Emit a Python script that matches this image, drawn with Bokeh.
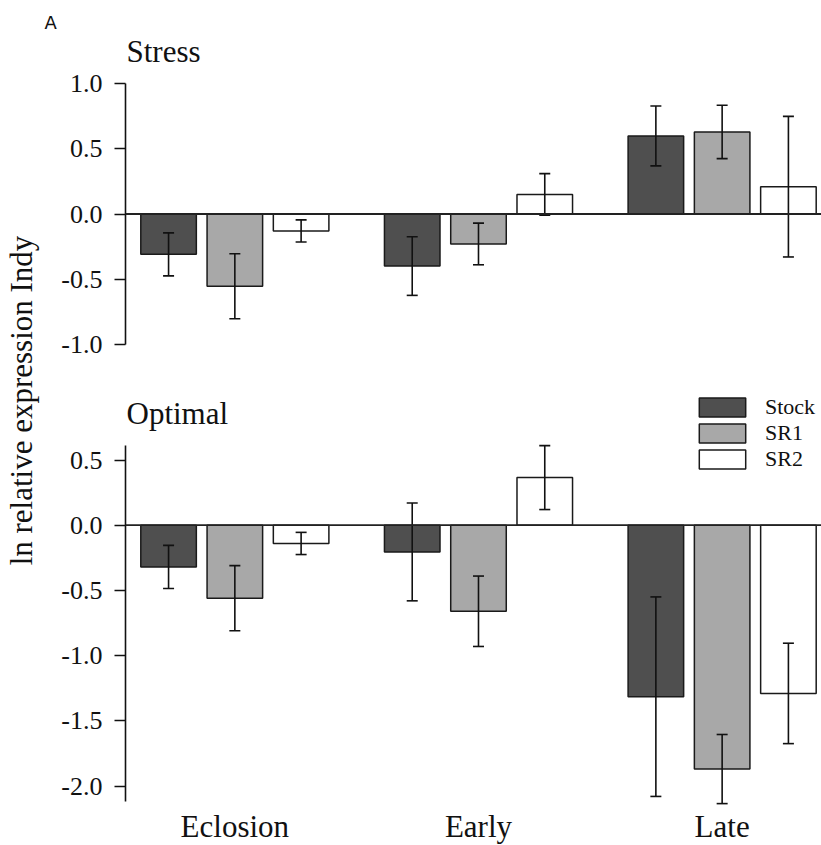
from math import pi
from bokeh.plotting import figure
from bokeh.models import (Range1d, ColumnDataSource, Whisker, TeeHead, Span, Label,
                          FixedTicker, PrintfTickFormatter, Legend, LegendItem)
from bokeh.layouts import row, column
from bokeh.embed import file_html
from bokeh.resources import INLINE

# ---------------- data ----------------
categories = ["Eclosion", "Early", "Late"]
series = ["Stock", "SR1", "SR2"]

stress_stock = [-0.31, -0.40, 0.60]
stress_sr1 = [-0.555, -0.23, 0.63]
stress_sr2 = [-0.13, 0.15, 0.21]
stress_stock_err = [0.165, 0.225, 0.23]
stress_sr1_err = [0.25, 0.16, 0.205]
stress_sr2_err = [0.085, 0.16, 0.54]

optimal_stock = [-0.32, -0.205, -1.315]
optimal_sr1 = [-0.56, -0.66, -1.87]
optimal_sr2 = [-0.14, 0.365, -1.29]
optimal_stock_err = [0.165, 0.375, 0.765]
optimal_sr1_err = [0.25, 0.27, 0.265]
optimal_sr2_err = [0.085, 0.245, 0.385]

stress_ticks = [-1.0, -0.5, 0.0, 0.5, 1.0]
optimal_ticks = [-2.0, -1.5, -1.0, -0.5, 0.0, 0.5]
stress_bounds = (-1.0, 1.0)
optimal_bounds = (-2.12, 0.61)

y_label = "ln relative expression Indy"

# ---------------- styling / layout ----------------
SERIF = "Liberation Serif"
COLORS = ["#4f4f4f", "#a8a8a8", "#ffffff"]
OUTLINE = "#1a1a1a"
TOTAL_W, TOTAL_H = 821, 845
X_PX = 244.0                      # pixels per category
FRAME_LEFT, FRAME_RIGHT = 124.0, 821.0
X_START = -(233.5 - FRAME_LEFT) / X_PX
X_END = (len(categories) - 1) + (FRAME_RIGHT - 721.5) / X_PX
OFFSETS = [-0.272, 0.0, 0.272]
BAR_W = 0.228
LEFT_W = 58
PANEL_W = TOTAL_W - LEFT_W
SPLIT = 375


def base_fix(size):
    # empirical shift so that an "alphabetic" label sits on the wanted baseline
    return 0.33 * size


def xd(px):
    return X_START + (px - FRAME_LEFT) / X_PX


def make_panel(title, title_base_px, vals, errs, ticks, bounds, zero_px, ppu,
               top_px, bottom_px, legend=False, xlabels=False):
    y_end = (zero_px - top_px) / ppu
    y_start = -(bottom_px - zero_px) / ppu

    def yd(px):
        return (zero_px - px) / ppu

    p = figure(width=PANEL_W, height=int(round(bottom_px - top_px)),
               x_range=Range1d(X_START, X_END), y_range=Range1d(y_start, y_end),
               toolbar_location=None, output_backend="svg", x_axis_location=None,
               min_border_left=int(FRAME_LEFT - LEFT_W), min_border_right=0,
               min_border_top=0, min_border_bottom=0, outline_line_color=None,
               background_fill_color="white", border_fill_color="white")
    p.grid.visible = False

    ax = p.yaxis[0]
    ax.ticker = FixedTicker(ticks=ticks)
    ax.formatter = PrintfTickFormatter(format="%.1f")
    ax.bounds = bounds
    ax.major_tick_out = 11
    ax.major_tick_in = 0
    ax.minor_tick_out = 0
    ax.minor_tick_in = 0
    ax.axis_line_width = 1.6
    ax.axis_line_color = "#111111"
    ax.major_tick_line_width = 1.6
    ax.major_tick_line_color = "#111111"
    ax.major_label_text_font = SERIF
    ax.major_label_text_font_size = "26px"
    ax.major_label_text_color = "#111111"
    ax.major_label_standoff = 12

    renderers = []
    for j, name in enumerate(series):
        v = vals[j]
        e = errs[j]
        xs = [i + OFFSETS[j] for i in range(len(categories))]
        src = ColumnDataSource(dict(x=xs, top=v,
                                    upper=[a + b for a, b in zip(v, e)],
                                    lower=[a - b for a, b in zip(v, e)]))
        r = p.vbar(x="x", top="top", bottom=0, width=BAR_W, source=src,
                   fill_color=COLORS[j], line_color=OUTLINE, line_width=1.5)
        renderers.append(r)
        w = Whisker(base="x", upper="upper", lower="lower", source=src,
                    dimension="height", level="annotation",
                    line_width=1.6, line_color="#111111",
                    upper_head=TeeHead(size=11, line_width=1.6, line_color="#111111"),
                    lower_head=TeeHead(size=11, line_width=1.6, line_color="#111111"))
        p.add_layout(w)

    p.add_layout(Span(location=0, dimension="width", line_color="#222222",
                      line_width=1.8))

    p.add_layout(Label(x=xd(125), y=yd(title_base_px - base_fix(31)), text=title,
                       text_font=SERIF, text_font_size="31px",
                       text_color="#111111", text_baseline="alphabetic",
                       text_align="left"))

    if legend:
        lg = Legend(items=[LegendItem(label=n, renderers=[r])
                           for n, r in zip(series, renderers)],
                    location=(568, 373), padding=0, margin=0, spacing=0,
                    glyph_width=58, glyph_height=24, label_standoff=14,
                    label_text_font=SERIF, label_text_font_size="22px",
                    label_text_color="#111111",
                    border_line_color=None, background_fill_alpha=0)
        p.add_layout(lg)

    if xlabels:
        for i, c in enumerate(categories):
            p.add_layout(Label(x=i, y=yd(836.5 - base_fix(31)), text=c,
                               text_font=SERIF,
                               text_font_size="31px", text_color="#111111",
                               text_align="center", text_baseline="alphabetic"))
    return p


top = make_panel("Stress", 61,
                 [stress_stock, stress_sr1, stress_sr2],
                 [stress_stock_err, stress_sr1_err, stress_sr2_err],
                 stress_ticks, stress_bounds, 213.5, 130.2, 0, SPLIT)

bot = make_panel("Optimal", 423.5,
                 [optimal_stock, optimal_sr1, optimal_sr2],
                 [optimal_stock_err, optimal_sr1_err, optimal_sr2_err],
                 optimal_ticks, optimal_bounds, 524.7, 130.4, SPLIT, TOTAL_H,
                 legend=True, xlabels=True)

# left strip holding the panel letter and the shared y label
lab = figure(width=LEFT_W, height=TOTAL_H, x_range=Range1d(0, LEFT_W),
             y_range=Range1d(-TOTAL_H, 0), toolbar_location=None,
             output_backend="svg", x_axis_type=None, y_axis_type=None,
             min_border=0, outline_line_color=None,
             background_fill_color="white", border_fill_color="white")
lab.grid.visible = False
lab.add_layout(Label(x=44, y=-(28.3 - base_fix(18)), text="A",
                     text_font="DejaVu Sans",
                     text_font_size="18px", text_color="#111111",
                     text_align="left", text_baseline="alphabetic"))
lab.add_layout(Label(x=31 - base_fix(31), y=-400, text=y_label, angle=pi / 2,
                     text_font=SERIF, text_font_size="31px",
                     text_color="#111111", text_align="center",
                     text_baseline="alphabetic"))

layout = row(lab, column(top, bot))

open("out.html", "w").write(file_html(layout, INLINE))
